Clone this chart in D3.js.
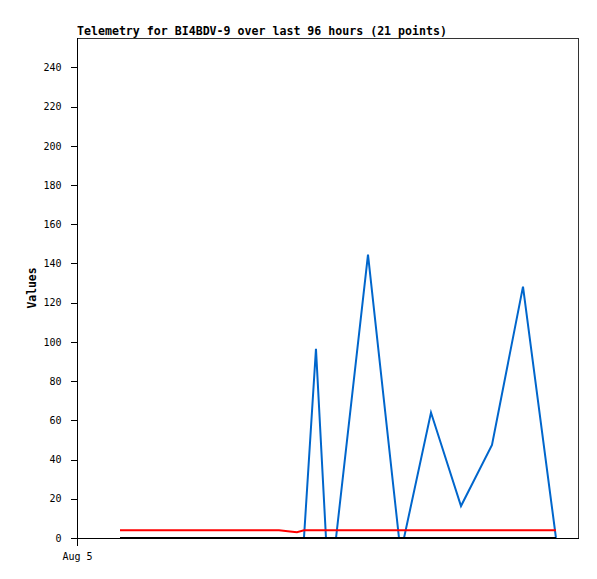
<!DOCTYPE html>
<html>
<head>
<meta charset="utf-8">
<script src="https://cdn.jsdelivr.net/npm/d3@7"></script>
<style>
  html, body { margin: 0; padding: 0; background: #fff; }
  svg { display: block; }
  text { font-family: "DejaVu Sans Mono", "Liberation Mono", monospace; }
</style>
</head>
<body>
<svg id="chart" width="597" height="579"></svg>
<script>
// ---- data ----
const titleText = "Telemetry for BI4BDV-9 over last 96 hours (21 points)";
const yLabel = "Values";
const startTime = "2024-08-05T00:00:00";
const endTime = "2024-08-09T00:00:00";
// hours after start of each sample
const hours = [8.24, 14.37, 20.50, 26.63, 32.77, 35.83, 38.71, 40.81, 42.15, 43.49,
               45.79, 47.71, 49.63, 55.76, 61.70, 62.66, 67.83, 73.58, 79.52, 85.46, 91.78];
const seriesBlue = [0, 0, 0, 0, 0, 0, 0, 0, 0, 0,
                    96.5, 0, 0, 144.5, 0, 0, 64, 16.3, 47.5, 128.2, 0];
const seriesRed = [3.9, 3.9, 3.9, 3.9, 3.9, 3.9, 3.9, 3.3, 2.9, 3.9,
                   3.9, 3.9, 3.9, 3.9, 3.9, 3.9, 3.9, 3.9, 3.9, 3.9, 3.9];
const seriesBlack = [0, 0, 0, 0, 0, 0, 0, 0, 0, 0,
                     0, 0, 0, 0, 0, 0, 0, 0, 0, 0, 0];
const yTicks = [0, 20, 40, 60, 80, 100, 120, 140, 160, 180, 200, 220, 240];
const yMax = 255;

// ---- layout ----
const svg = d3.select("#chart");
const L = 77, R = 578, T = 38, B = 538;
const t0 = new Date(startTime), t1 = new Date(endTime);
const times = hours.map(h => new Date(t0.getTime() + h * 3600 * 1000));

const x = d3.scaleTime().domain([t0, t1]).range([L, R]);
const y = d3.scaleLinear().domain([0, yMax]).range([B, T]);

// frame
svg.append("rect")
  .attr("x", L + 0.5).attr("y", T + 0.5)
  .attr("width", R - L).attr("height", B - T)
  .attr("fill", "none").attr("stroke", "#333").attr("stroke-width", 1)
  .attr("shape-rendering", "crispEdges");

// title
svg.append("text")
  .attr("x", L).attr("y", 35)
  .attr("font-size", "11.6px").attr("font-weight", "bold")
  .attr("fill", "#000")
  .text(titleText);

// y axis
const yAxis = d3.axisLeft(y).tickValues(yTicks).tickSize(7).tickPadding(9);
const gy = svg.append("g").attr("transform", `translate(${L + 0.5},0)`).call(yAxis);
gy.select(".domain").remove();
gy.selectAll("line").attr("stroke", "#000").attr("shape-rendering", "crispEdges");
gy.selectAll("text").attr("font-size", "10px").attr("fill", "#000")
  .attr("font-family", "DejaVu Sans Mono, monospace");
svg.append("line").attr("x1", L + 0.5).attr("x2", L + 0.5).attr("y1", T).attr("y2", B + 1)
  .attr("stroke", "#000").attr("shape-rendering", "crispEdges");

// x axis
const xAxis = d3.axisBottom(x).tickValues([t0]).tickFormat(d3.timeFormat("%b %-d"))
  .tickSize(7).tickPadding(7);
const gx = svg.append("g").attr("transform", `translate(0,${B + 0.5})`).call(xAxis);
gx.select(".domain").remove();
gx.selectAll("line").attr("stroke", "#000").attr("shape-rendering", "crispEdges");
gx.selectAll("text").attr("font-size", "10px").attr("fill", "#000")
  .attr("font-family", "DejaVu Sans Mono, monospace");
svg.append("line").attr("x1", L).attr("x2", R + 1).attr("y1", B + 0.5).attr("y2", B + 0.5)
  .attr("stroke", "#000").attr("shape-rendering", "crispEdges");

// y label
svg.append("text")
  .attr("transform", `translate(36,${(T + B) / 2}) rotate(-90)`)
  .attr("text-anchor", "middle")
  .attr("font-size", "11.4px").attr("font-weight", "bold").attr("fill", "#000")
  .text(yLabel);

// lines
const line = d3.line().x((d, i) => x(times[i])).y(d => y(d));
function drawSeries(vals, color) {
  svg.append("path")
    .datum(vals)
    .attr("d", line)
    .attr("fill", "none")
    .attr("stroke", color)
    .attr("stroke-width", 2)
    .attr("stroke-linejoin", "miter");
}
drawSeries(seriesBlue, "#0066cc");
drawSeries(seriesRed, "#ff0000");
drawSeries(seriesBlack, "#000000");
</script>
</body>
</html>
